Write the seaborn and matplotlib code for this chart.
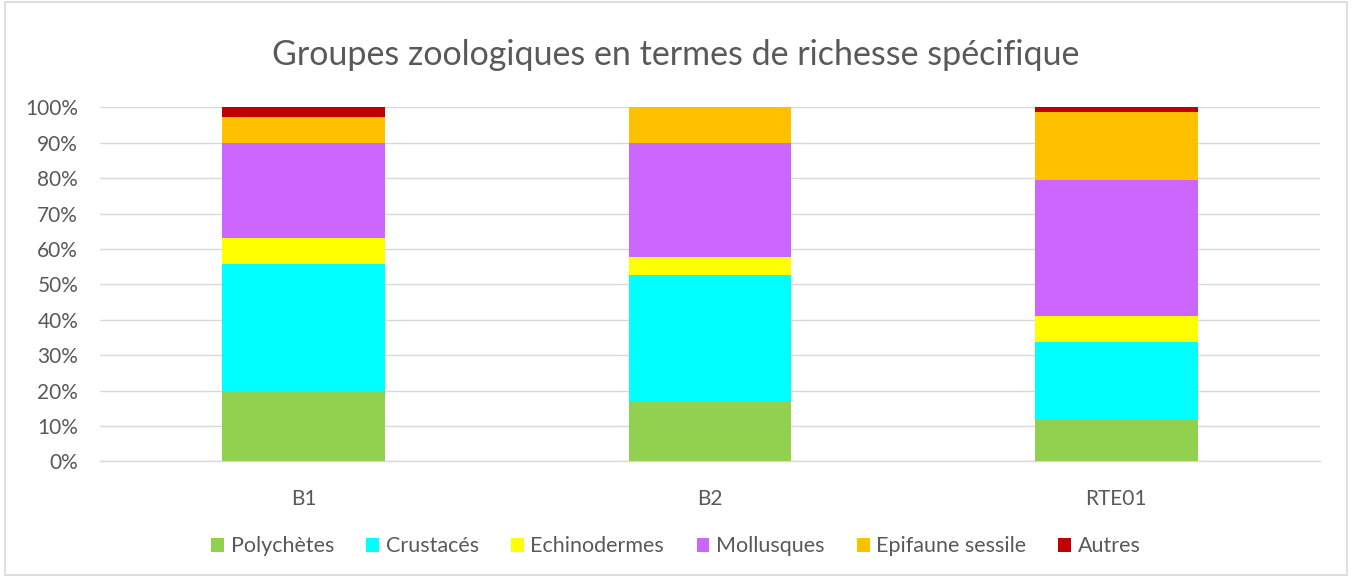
import matplotlib
matplotlib.use("Agg")
import matplotlib.pyplot as plt
from matplotlib.patches import Patch, Rectangle
import numpy as np
import pandas as pd
import seaborn as sns

# Share of species richness (%) per zoological group at each station
stations = ["B1", "B2", "RTE01"]
groups = ["Polychètes", "Crustacés", "Echinodermes", "Mollusques", "Epifaune sessile", "Autres"]
polychetes = [20.0, 17.0, 11.7]
crustaces = [35.8, 35.6, 22.1]
echinodermes = [7.4, 5.1, 7.2]
mollusques = [26.8, 32.3, 38.5]
epifaune = [7.2, 10.0, 19.1]
autres = [2.8, 0.0, 1.4]

colors = ["#92D050", "#00FFFF", "#FFFF00", "#CC66FF", "#FFC000", "#C00000"]

series = [polychetes, crustaces, echinodermes, mollusques, epifaune, autres]
cumulative = np.cumsum(np.array(series), axis=0)

rows = []
for g, cum in zip(groups, cumulative):
    for s, v in zip(stations, cum):
        rows.append({"station": s, "groupe": g, "top": v})
df = pd.DataFrame(rows)

sns.set_theme(style="white")
plt.rcParams["font.family"] = ["Lato", "DejaVu Sans"]
text_color = "#595959"
grid_color = "#D9D9D9"

fig = plt.figure(figsize=(13.52, 5.77), dpi=100)
ax = fig.add_axes([0.0743, 0.2005, 0.9017, 0.6135])

# Stacked bars: draw cumulative totals from the top group downwards
for g, c in reversed(list(zip(groups, colors))):
    sub = df[df["groupe"] == g]
    sns.barplot(data=sub, x="station", y="top", order=stations, color=c,
                width=0.4, saturation=1, ax=ax, linewidth=0, zorder=3)

ax.set_ylim(0, 100)
ax.set_xlim(-0.5, 2.5)
ax.set_yticks(np.arange(0, 101, 10))
ax.set_yticklabels([f"{t}%" for t in range(0, 101, 10)])
ax.yaxis.grid(True, color=grid_color, linewidth=1, zorder=0)
ax.set_axisbelow(True)
ax.set_xlabel("")
ax.set_ylabel("")
for side in ["left", "right", "top"]:
    ax.spines[side].set_visible(False)
ax.spines["bottom"].set_color(grid_color)
ax.spines["bottom"].set_linewidth(1)
ax.tick_params(axis="both", length=0, labelsize=15, colors=text_color)
ax.tick_params(axis="y", pad=16)
ax.tick_params(axis="x", pad=20)

fig.text(0.5, 0.905, "Groupes zoologiques en termes de richesse spécifique",
         ha="center", va="center", fontsize=24.5, color=text_color)

handles = [Patch(facecolor=c, edgecolor="none", label=g) for g, c in zip(groups, colors)]
fig.legend(handles=handles, loc="center", bbox_to_anchor=(0.5, 0.053), ncol=6,
           frameon=False, fontsize=15.5, labelcolor=text_color,
           handlelength=0.6, handleheight=0.6, handletextpad=0.3, columnspacing=1.5)

fig.patches.append(Rectangle((0.004, 0.004), 0.992, 0.992, transform=fig.transFigure,
                             fill=False, edgecolor=grid_color, linewidth=1.2))

fig.savefig("out.png", dpi=100, facecolor="white")
